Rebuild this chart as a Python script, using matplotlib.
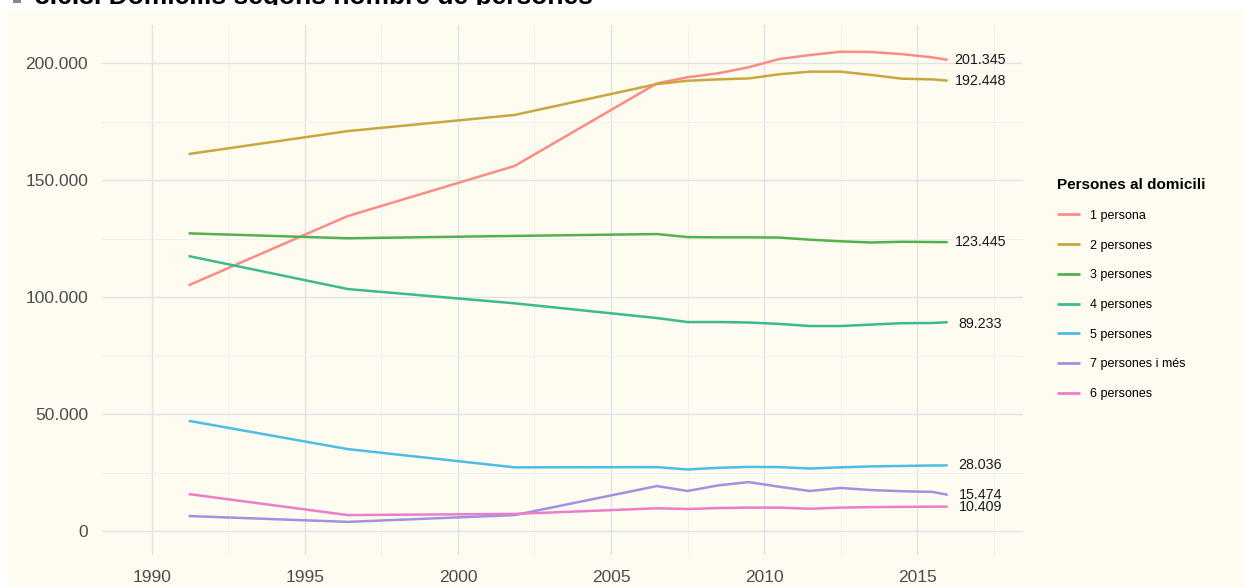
import numpy as np
import matplotlib.pyplot as plt
from matplotlib.patches import Rectangle
from matplotlib.ticker import FuncFormatter, MultipleLocator
from matplotlib.transforms import Bbox, TransformedBbox

plt.rcParams['font.family'] = ['Liberation Sans', 'DejaVu Sans']

anys = [1991.2, 1996.4, 2001.85, 2006.5, 2007.5, 2008.5, 2009.5, 2010.5,
        2011.5, 2012.5, 2013.5, 2014.5, 2015.5, 2016.0]

p1 = [105000, 134600, 156000, 191300, 193900, 195600, 198200, 201700,
      203400, 204800, 204700, 203800, 202400, 201345]
p2 = [161100, 170900, 177800, 191000, 192400, 193000, 193400, 195200,
      196300, 196300, 194900, 193300, 193000, 192448]
p3 = [127200, 125100, 126100, 126900, 125600, 125500, 125500, 125400,
      124500, 123800, 123300, 123600, 123500, 123445]
p4 = [117500, 103400, 97300, 91000, 89300, 89300, 89100, 88500,
      87600, 87600, 88200, 88800, 88900, 89233]
p5 = [47100, 35000, 27200, 27300, 26300, 27000, 27400, 27300,
      26700, 27200, 27600, 27800, 28000, 28036]
p7 = [6400, 3900, 6800, 19200, 17100, 19500, 20900, 18900,
      17100, 18400, 17500, 17000, 16700, 15474]
p6 = [15800, 6800, 7300, 9700, 9400, 9800, 10000, 10000,
      9500, 10000, 10200, 10300, 10400, 10409]

series = ['1 persona', '2 persones', '3 persones', '4 persones',
          '5 persones', '7 persones i més', '6 persones']
valors = [p1, p2, p3, p4, p5, p7, p6]
colors = ['#FA8C86', '#C9A73E', '#52B14C', '#3DB98E', '#4DBDE2', '#A290E2', '#EE7CC9']

# labels at the end of some lines (label y tweaked where they overlap)
etiquetes = ['201.345', '192.448', '123.445', '89.233', '28.036', '15.474', '10.409']
etiq_y = [201345, 192448, 123445, 89233, 28036, 15474, 10409]
etiq_y[3] = 88600
etiq_y[5] = 15500
etiq_y[6] = 10200

def fmt(v, pos):
    return '{:,.0f}'.format(v).replace(',', '.')

W, H = 1244, 587
fig = plt.figure(figsize=(W / 100, H / 100), dpi=100, facecolor='white')
fig.patches.append(Rectangle((7 / W, 0), 1, 1 - 11 / H, transform=fig.transFigure,
                             facecolor='#FEFCF0', edgecolor='none', zorder=-10))

ax = fig.add_axes([102 / W, 1 - 555 / H, (1023 - 102) / W, (555 - 25) / H])
ax.set_facecolor('none')
for s in ax.spines.values():
    s.set_visible(False)

for nom, v, c in zip(series, valors, colors):
    ax.plot(anys, v, color=c, lw=1.8, label=nom, solid_capstyle='butt')

for t, yv in zip(etiquetes, etiq_y):
    ax.text(2017.06, yv, t, ha='center', va='center', fontsize=10.3, color='#1a1a1a')

ax.set_xlim(1988.37, 2018.46)
ax.set_ylim(-10256, 216240)
ax.xaxis.set_major_locator(MultipleLocator(5))
ax.xaxis.set_minor_locator(MultipleLocator(2.5))
ax.yaxis.set_major_locator(MultipleLocator(50000))
ax.yaxis.set_minor_locator(MultipleLocator(25000))
ax.yaxis.set_major_formatter(FuncFormatter(fmt))
ax.grid(which='major', color='#E2E3EA', lw=1.0)
ax.grid(which='minor', color='#EEEEF0', lw=0.6)
ax.set_axisbelow(True)
ax.tick_params(which='both', length=0)
ax.tick_params(axis='x', pad=11, labelsize=12.5, labelcolor='#4D4D4D')
ax.tick_params(axis='y', pad=10, labelsize=12.5, labelcolor='#4D4D4D')

leg = ax.legend(loc='upper left', bbox_to_anchor=(1057 / W, 1 - 178 / H),
                bbox_transform=fig.transFigure, frameon=False, fontsize=9,
                title='Persones al domicili', alignment='left',
                title_fontproperties={'weight': 'bold', 'size': 11},
                handlelength=1.85, handletextpad=0.75, labelspacing=1.42,
                borderpad=0, borderaxespad=0)
for l in leg.get_lines():
    l.set_linewidth(2.0)

# title is cut off at the top edge in the original, only its bottom shows
clip = TransformedBbox(Bbox([[0, 1 - 5 / H], [1, 1]]), fig.transFigure)
t1 = fig.text(12 / W, 1 - 4 / H, '■', fontsize=12, color='#888888', va='baseline')
t2 = fig.text(35 / W, 1 - 4 / H, '3.6.3. Domicilis segons nombre de persones',
              fontsize=19, fontweight='bold', va='baseline', color='black')
for t in (t1, t2):
    t.set_clip_box(clip)
    t.set_clip_on(True)

fig.savefig('out.png', dpi=100, facecolor=fig.get_facecolor())
